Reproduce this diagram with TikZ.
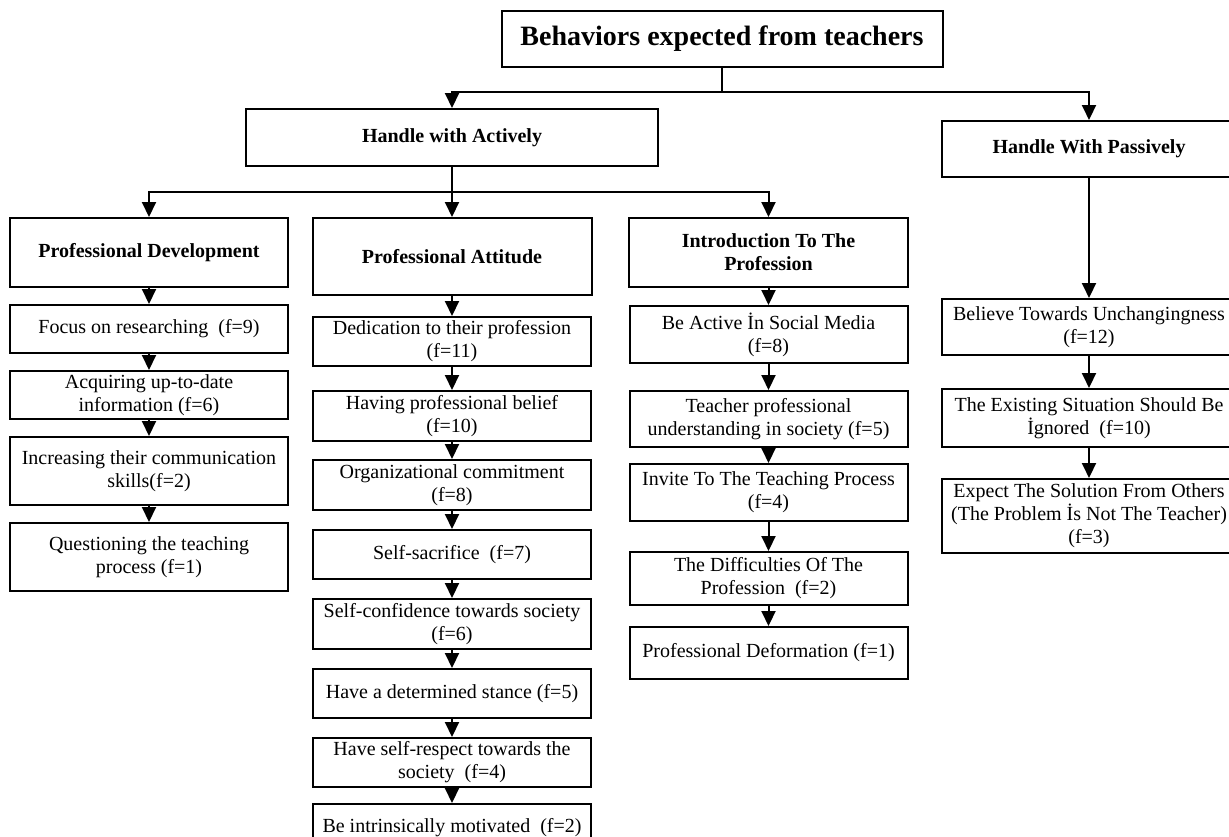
\documentclass[tikz,border=0pt]{standalone}
\usepackage{fontspec}
\setmainfont{Liberation Serif}
\usetikzlibrary{positioning}
\usetikzlibrary{arrows.meta}

\begin{document}
\begin{tikzpicture}[x=0.5pt,y=-0.5pt,
         head/.style = {draw, line width=1pt, inner sep=0pt, align=center,
         font=\fontsize{10}{11.5}\selectfont\bfseries},
         item/.style = {draw, line width=1pt, inner sep=0pt, align=center,
         minimum width=139pt, font=\fontsize{10}{11.5}\selectfont},
         link/.style = {line width=1pt, -{Triangle[length=7.5pt,width=7pt]}}]

   \clip (0,0) rectangle (1229,836);

   % top
   \node[head, minimum width=220.5pt, minimum height=28pt,
         font=\fontsize{14}{16}\selectfont\bfseries] (t0) at (722,39)
         {Behaviors expected from teachers};
   \node[head, minimum width=206pt, minimum height=28.5pt] (h1) at (452,137.5)
         {Handle with Actively};
   \node[head, minimum width=147pt, minimum height=28pt] (h2) at (1089,149)
         {Handle With Passively};

   % active branches
   \node[head, minimum width=139pt, minimum height=34.5pt] (d0) at (149,252.5)
         {Professional Development};
   \node[head, minimum width=139.5pt, minimum height=38.5pt] (p0) at (452,256.5)
         {Professional Attitude};
   \node[head, minimum width=139.5pt, minimum height=34.5pt] (i0) at (768.5,252.5)
         {Introduction To The\\Profession};

   % professional development
   \node[item, minimum height=24pt, below=8pt of d0] (d1) {Focus on researching\ \ (f=9)};
   \node[item, minimum height=24pt, below=8pt of d1] (d2) {Acquiring up-to-date\\information (f=6)};
   \node[item, minimum height=34pt, below=8pt of d2] (d3) {Increasing their communication\\skills(f=2)};
   \node[item, minimum height=34pt, below=8pt of d3] (d4) {Questioning the teaching\\process (f=1)};

   % professional attitude
   \node[item, minimum height=24.5pt, below=10pt of p0]  (p1) {Dedication to their profession\\(f=11)};
   \node[item, minimum height=25pt, below=11.5pt of p1]  (p2) {Having professional belief\\(f=10)};
   \node[item, minimum height=25pt, below=8.5pt of p2]   (p3) {Organizational commitment\\(f=8)};
   \node[item, minimum height=24.5pt, below=9pt of p3]   (p4) {Self-sacrifice\ \ (f=7)};
   \node[item, minimum height=25pt, below=9pt of p4]     (p5) {Self-confidence towards society\\(f=6)};
   \node[item, minimum height=24.5pt, below=9pt of p5]   (p6) {Have a determined stance (f=5)};
   \node[item, minimum height=24.5pt, below=9pt of p6]   (p7) {Have self-respect towards the\\society\ \ (f=4)};
   \node[item, minimum height=24pt, below=7.5pt of p7]   (p8) {Be intrinsically motivated\ \ (f=2)};

   % introduction to the profession
   \node[item, minimum height=28.5pt, below=8.5pt of i0] (i1) {Be Active İn Social Media\\(f=8)};
   \node[item, minimum height=28pt, below=13pt of i1]    (i2) {Teacher professional\\understanding in society (f=5)};
   \node[item, minimum height=28.5pt, below=7.5pt of i2] (i3) {Invite To The Teaching Process\\(f=4)};
   \node[item, minimum height=26.5pt, below=14.5pt of i3] (i4) {The Difficulties Of The\\Profession\ \ (f=2)};
   \node[item, minimum height=26pt, below=10pt of i4]    (i5) {Professional Deformation (f=1)};

   % passive
   \node[item, minimum width=147pt, minimum height=28pt, below=60pt of h2] (s1)
         {Believe Towards Unchangingness\\(f=12)};
   \node[item, minimum width=147pt, minimum height=29pt, below=16pt of s1] (s2)
         {The Existing Situation Should Be\\İgnored\ \ (f=10)};
   \node[item, minimum width=147pt, minimum height=37pt, below=15pt of s2] (s3)
         {Expect The Solution From Others\\(The Problem İs Not The Teacher)\\(f=3)};

   % buses
   \coordinate (b1) at (722,92);
   \coordinate (b2) at (452,192);
   \draw[line width=1pt] (t0.south) -- (b1);
   \draw[link] (b1) -| (h1.north);
   \draw[link] (b1) -| (h2.north);
   \draw[line width=1pt] (h1.south) -- (b2);
   \draw[link] (b2) -| (d0.north);
   \draw[link] (b2) -- (p0.north);
   \draw[link] (b2) -| (i0.north);

   % chains
   \foreach \a/\b in {d0/d1,d1/d2,d2/d3,d3/d4,
                      p0/p1,p1/p2,p2/p3,p3/p4,p4/p5,p5/p6,p6/p7,p7/p8,
                      i0/i1,i1/i2,i2/i3,i3/i4,i4/i5,
                      h2/s1,s1/s2,s2/s3}
      \draw[link] (\a) -- (\b);

\end{tikzpicture}
\end{document}
